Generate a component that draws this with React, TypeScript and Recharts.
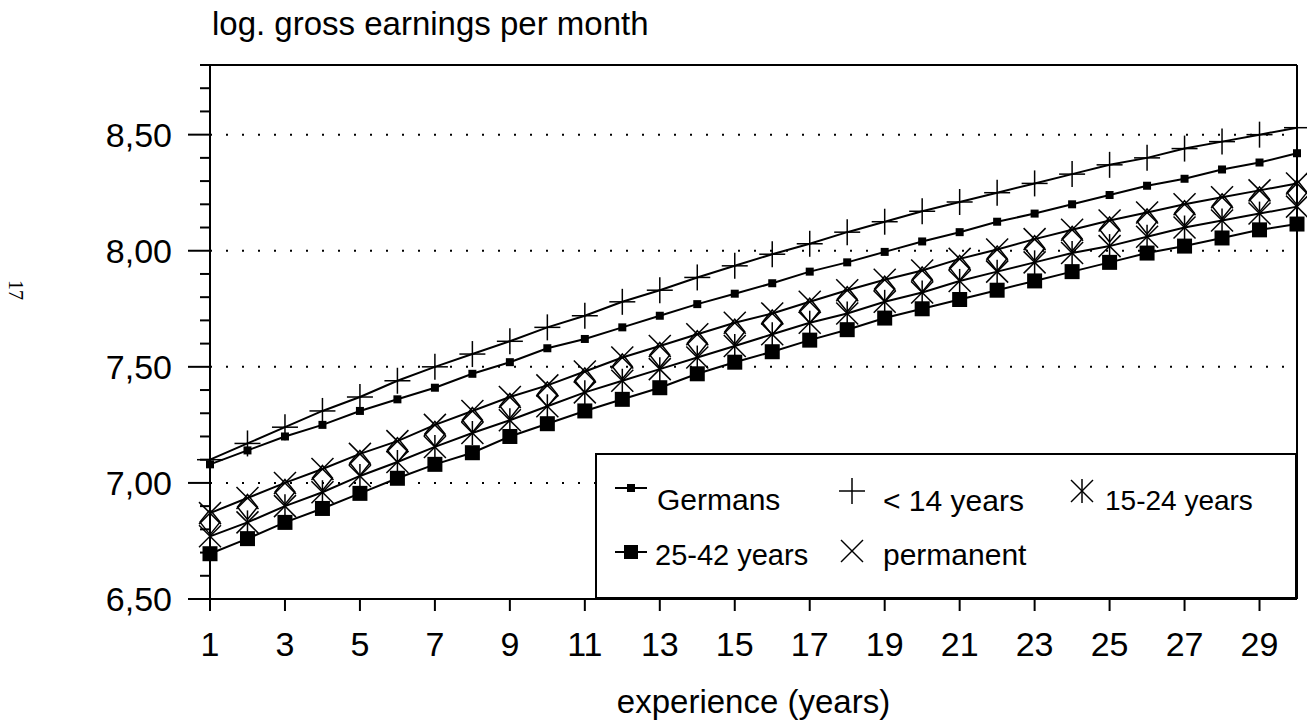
import React from "react";
import { LineChart, Line, XAxis, YAxis, ReferenceLine, Label } from "recharts";

const years = [1, 2, 3, 4, 5, 6, 7, 8, 9, 10, 11, 12, 13, 14, 15, 16, 17, 18, 19, 20, 21, 22, 23, 24, 25, 26, 27, 28, 29, 30];

const germans = [7.08, 7.14, 7.2, 7.25, 7.31, 7.36, 7.41, 7.47, 7.52, 7.58, 7.62, 7.67, 7.72, 7.77, 7.815, 7.86, 7.91, 7.95, 7.995, 8.04, 8.08, 8.125, 8.16, 8.2, 8.24, 8.28, 8.31, 8.35, 8.38, 8.42];
const under14 = [7.1, 7.17, 7.24, 7.31, 7.37, 7.44, 7.5, 7.555, 7.61, 7.67, 7.72, 7.78, 7.83, 7.885, 7.935, 7.985, 8.03, 8.08, 8.125, 8.17, 8.21, 8.25, 8.29, 8.33, 8.37, 8.4, 8.44, 8.47, 8.5, 8.53];
const y15to24 = [6.77, 6.83, 6.9, 6.96, 7.03, 7.09, 7.155, 7.215, 7.27, 7.33, 7.39, 7.44, 7.49, 7.54, 7.59, 7.64, 7.69, 7.73, 7.78, 7.82, 7.87, 7.91, 7.95, 7.99, 8.02, 8.06, 8.1, 8.13, 8.16, 8.19];
const y25to42 = [6.695, 6.76, 6.83, 6.89, 6.955, 7.02, 7.08, 7.13, 7.2, 7.255, 7.31, 7.36, 7.41, 7.47, 7.52, 7.565, 7.615, 7.66, 7.71, 7.75, 7.79, 7.83, 7.87, 7.91, 7.95, 7.99, 8.02, 8.055, 8.09, 8.115];
const permanent = [6.87, 6.935, 7.0, 7.06, 7.125, 7.18, 7.25, 7.31, 7.37, 7.42, 7.48, 7.54, 7.59, 7.64, 7.69, 7.73, 7.78, 7.83, 7.875, 7.915, 7.965, 8.005, 8.05, 8.09, 8.13, 8.165, 8.2, 8.23, 8.26, 8.29];

const xTicks = [1, 3, 5, 7, 9, 11, 13, 15, 17, 19, 21, 23, 25, 27, 29];
const yTicks = [6.5, 6.6, 6.7, 6.8, 6.9, 7.0, 7.1, 7.2, 7.3, 7.4, 7.5, 7.6, 7.7, 7.8, 7.9, 8.0, 8.1, 8.2, 8.3, 8.4, 8.5, 8.6, 8.7, 8.8];
const gridValues = [7.0, 7.5, 8.0, 8.5];

const data = years.map((year, i) => ({
  year,
  germans: germans[i],
  under14: under14[i],
  y15to24: y15to24[i],
  y25to42: y25to42[i],
  permanent: permanent[i],
}));

const FONT = "'Liberation Sans', Arial, Helvetica, sans-serif";
const INK = "#000";

// marker shapes
const SmallSquare = ({ cx, cy }: any) => (
  <rect x={cx - 4} y={cy - 4} width={8} height={8} fill={INK} />
);
const BigSquare = ({ cx, cy }: any) => (
  <rect x={cx - 7.5} y={cy - 7.5} width={15} height={15} fill={INK} />
);
const Plus = ({ cx, cy }: any) => (
  <g stroke={INK} strokeWidth={1.5}>
    <line x1={cx - 13} x2={cx + 13} y1={cy} y2={cy} />
    <line x1={cx} x2={cx} y1={cy - 13} y2={cy + 13} />
  </g>
);
const Star = ({ cx, cy }: any) => (
  <g stroke={INK} strokeWidth={1.5}>
    <line x1={cx} x2={cx} y1={cy - 12} y2={cy + 12} />
    <line x1={cx - 11} x2={cx + 11} y1={cy - 11} y2={cy + 11} />
    <line x1={cx - 11} x2={cx + 11} y1={cy + 11} y2={cy - 11} />
  </g>
);
const Cross = ({ cx, cy }: any) => (
  <g stroke={INK} strokeWidth={1.5}>
    <line x1={cx - 11} x2={cx + 11} y1={cy - 11} y2={cy + 11} />
    <line x1={cx - 11} x2={cx + 11} y1={cy + 11} y2={cy - 11} />
  </g>
);
const CrossDiamond = ({ cx, cy }: any) => (
  <g fill="none" stroke={INK} strokeWidth={1.5}>
    <line x1={cx - 11} x2={cx + 11} y1={cy - 11} y2={cy + 11} />
    <line x1={cx - 11} x2={cx + 11} y1={cy + 11} y2={cy - 11} />
    <path d={`M${cx} ${cy - 3.5} L${cx + 10} ${cy + 9} L${cx} ${cy + 21.5} L${cx - 10} ${cy + 9} Z`} />
  </g>
);

const dotOf = (Shape: any) => (props: any) => (
  <g key={`${props.dataKey}-${props.index}`}>
    <Shape cx={props.cx} cy={props.cy} />
  </g>
);

const YTick = ({ x, y, payload }: any) => {
  const v = payload.value as number;
  const major = Math.abs(v * 2 - Math.round(v * 2)) < 1e-6;
  return (
    <g>
      <line x1={x - (major ? 22 : 10)} x2={x} y1={y} y2={y} stroke={INK} strokeWidth={2} />
      {major && (
        <text x={x - 38} y={y} dy="0.36em" textAnchor="end" fontSize={34} fontFamily={FONT} fill={INK}>
          {v.toFixed(2).replace(".", ",")}
        </text>
      )}
    </g>
  );
};

const XTick = ({ x, y, payload }: any) => (
  <g>
    <line x1={x} x2={x} y1={y} y2={y + 12} stroke={INK} strokeWidth={2} />
    <text x={x} y={y + 57} textAnchor="middle" fontSize={34} fontFamily={FONT} fill={INK}>
      {payload.value}
    </text>
  </g>
);

const LegendBox = () => (
  <div
    style={{
      position: "absolute",
      left: 595,
      top: 453,
      width: 702,
      height: 146,
      boxSizing: "border-box",
      border: "2px solid #000",
      background: "#fff",
    }}
  >
    <svg width={700} height={144} style={{ position: "absolute", left: -2, top: -2, overflow: "visible" }}>
      <g fontFamily={FONT} fill={INK}>
        <line x1={20} x2={52} y1={35} y2={35} stroke={INK} strokeWidth={2} />
        <SmallSquare cx={36} cy={35} />
        <text x={62} y={57} fontSize={30}>Germans</text>

        <Plus cx={257} cy={38} />
        <text x={288} y={58} fontSize={30}>{"< 14 years"}</text>

        <Star cx={487} cy={38} />
        <text x={510} y={57} fontSize={28}>15-24 years</text>

        <line x1={20} x2={52} y1={99} y2={99} stroke={INK} strokeWidth={2} />
        <rect x={29} y={92} width={14} height={14} fill={INK} />
        <text x={60} y={112} fontSize={29}>25-42 years</text>

        <Cross cx={257} cy={98} />
        <text x={288} y={112} fontSize={30}>permanent</text>
      </g>
    </svg>
  </div>
);

export default function App() {
  return (
    <div
      style={{
        position: "absolute",
        left: 0,
        top: 0,
        width: 1307,
        height: 726,
        background: "#fff",
        fontFamily: FONT,
        overflow: "hidden",
      }}
    >
      <div
        style={{
          position: "absolute",
          left: 212,
          top: 7,
          fontSize: 33,
          lineHeight: "33px",
          color: INK,
          whiteSpace: "nowrap",
        }}
      >
        log. gross earnings per month
      </div>
      <div
        style={{
          position: "absolute",
          left: 6,
          top: 280,
          fontSize: 20,
          lineHeight: "20px",
          fontFamily: "'Liberation Serif', serif",
          transform: "rotate(90deg)",
          color: INK,
        }}
      >
        17
      </div>

      <LineChart
        width={1307}
        height={726}
        data={data}
        margin={{ top: 65, right: 10, bottom: 0, left: 0 }}
      >
        {gridValues.map((v) => (
          <ReferenceLine key={v} y={v} stroke={INK} strokeWidth={2} strokeDasharray="2 14" />
        ))}
        <ReferenceLine y={8.8} stroke={INK} strokeWidth={2} />
        <ReferenceLine x={30} stroke={INK} strokeWidth={2} />
        <XAxis
          dataKey="year"
          type="number"
          domain={[1, 30]}
          ticks={xTicks}
          interval={0}
          height={127}
          tickSize={0}
          tickMargin={0}
          tickLine={false}
          axisLine={{ stroke: INK, strokeWidth: 2 }}
          tick={<XTick />}
        >
          <Label
            content={({ viewBox }: any) => (
              <text
                x={viewBox.x + viewBox.width / 2}
                y={713}
                textAnchor="middle"
                fontSize={33}
                fontFamily={FONT}
                fill={INK}
              >
                experience (years)
              </text>
            )}
          />
        </XAxis>
        <YAxis
          type="number"
          domain={[6.5, 8.8]}
          ticks={yTicks}
          interval={0}
          width={210}
          tickSize={0}
          tickMargin={0}
          tickLine={false}
          axisLine={{ stroke: INK, strokeWidth: 2 }}
          tick={<YTick />}
        />
        <Line dataKey="germans" stroke={INK} strokeWidth={2} dot={dotOf(SmallSquare)} isAnimationActive={false} type="linear" />
        <Line dataKey="under14" stroke={INK} strokeWidth={2} dot={dotOf(Plus)} isAnimationActive={false} type="linear" />
        <Line dataKey="y15to24" stroke={INK} strokeWidth={2} dot={dotOf(Star)} isAnimationActive={false} type="linear" />
        <Line dataKey="y25to42" stroke={INK} strokeWidth={2} dot={dotOf(BigSquare)} isAnimationActive={false} type="linear" />
        <Line dataKey="permanent" stroke={INK} strokeWidth={2} dot={dotOf(CrossDiamond)} isAnimationActive={false} type="linear" />
      </LineChart>

      <LegendBox />
    </div>
  );
}
